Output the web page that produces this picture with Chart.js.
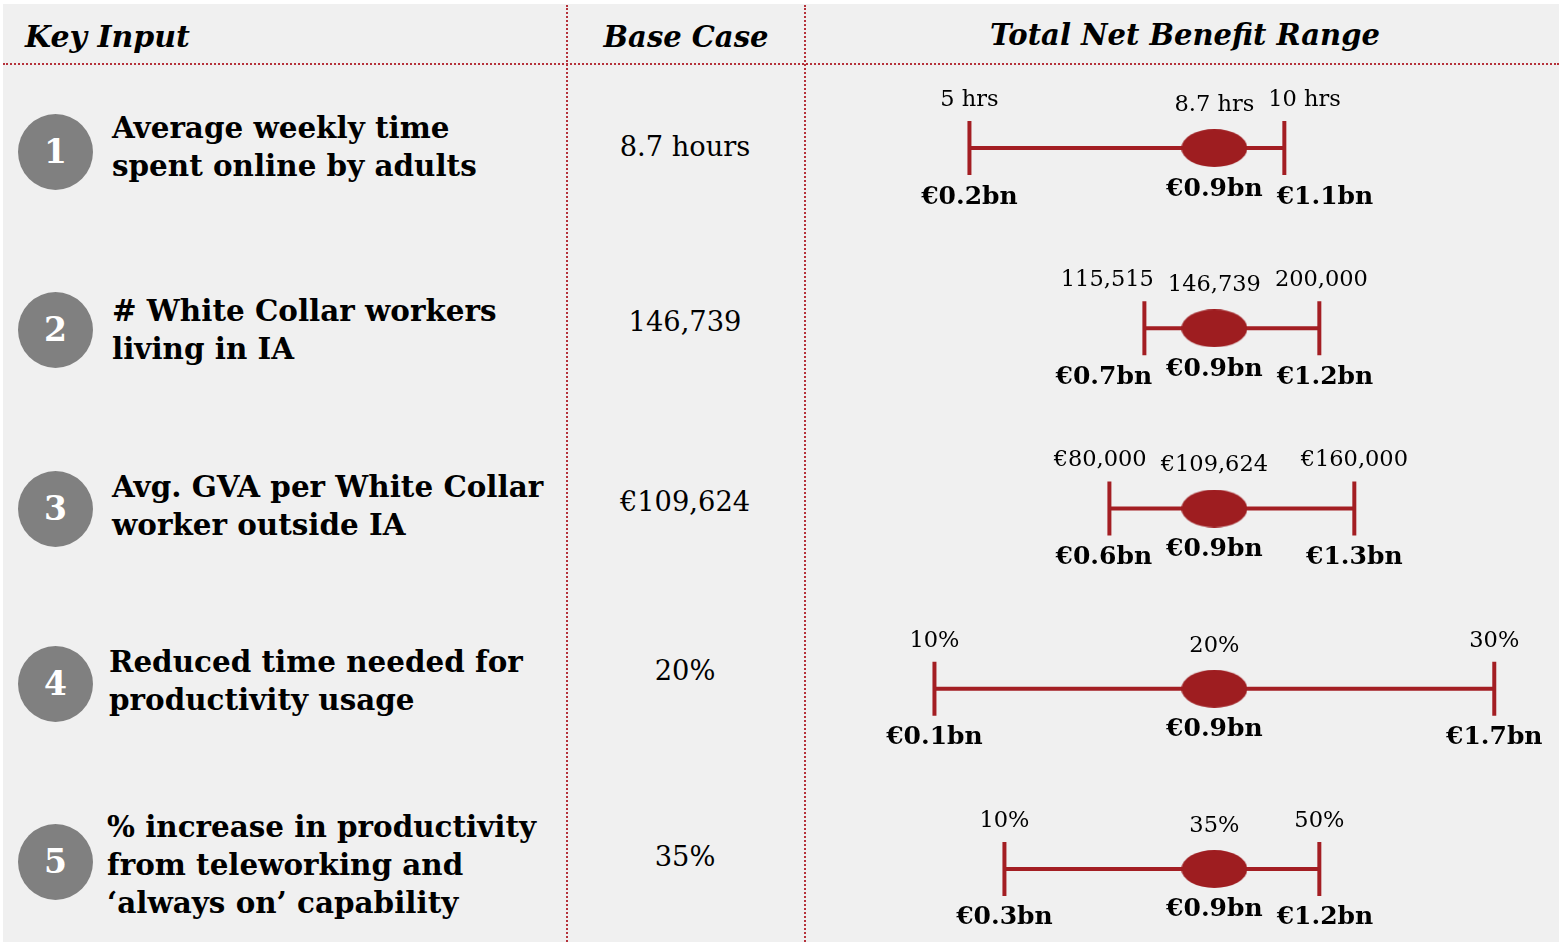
<!DOCTYPE html>
<html>
<head>
<meta charset="utf-8">
<script src="https://cdn.jsdelivr.net/npm/chart.js@4"></script>
<style>
  html, body { margin: 0; padding: 0; width: 1559px; height: 942px; overflow: hidden; background: #ffffff; }
  #panel { position: absolute; left: 3px; top: 4px; width: 1556px; height: 938px; background: #f0f0f0; }
  .abs { position: absolute; }
  .hdr { font-family: "DejaVu Serif", serif; font-weight: bold; font-style: italic; font-size: 29px; line-height: 40px; color: #000; white-space: nowrap; }
  .hline { position: absolute; left: 3px; top: 63px; width: 1556px; height: 0; border-top: 2px dotted #b5313a; }
  .vline { position: absolute; top: 5px; width: 0; height: 937px; border-left: 2px dotted #b5313a; }
  .circ { position: absolute; width: 75px; height: 76px; border-radius: 50%; background: #808080; color: #fff;
          font-family: "DejaVu Serif", serif; font-weight: bold; font-size: 33px; line-height: 76px; text-align: center; }
  .key { position: absolute; font-family: "DejaVu Serif", serif; font-weight: bold; font-size: 29.4px; line-height: 38px; color: #000; white-space: nowrap; }
  .base { position: absolute; left: 567px; width: 236px; text-align: center; font-family: "DejaVu Serif", serif; font-size: 27.3px; line-height: 38px; color: #000; }
  #chartBox { position: absolute; left: 805px; top: 65px; width: 754px; height: 877px; }
</style>
</head>
<body>
<div id="panel"></div>
<div class="hline"></div>
<div class="vline" style="left:566px"></div>
<div class="vline" style="left:804px"></div>
<div class="hdr abs" style="left:25px; top:17px; font-size:30px;">Key Input</div>
<div class="hdr abs" style="left:567px; width:238px; text-align:center; top:17px;">Base Case</div>
<div class="hdr abs" style="left:805px; width:760px; text-align:center; top:15px;">Total Net Benefit Range</div>
<div id="left"></div>
<div id="chartBox"><canvas id="chart" width="754" height="877"></canvas></div>
<script>
// ---------- data ----------
const rowNumbers = ["1", "2", "3", "4", "5"];
const keyInputs = [
  ["Average weekly time", "spent online by adults"],
  ["# White Collar workers", "living in IA"],
  ["Avg. GVA per White Collar", "worker outside IA"],
  ["Reduced time needed for", "productivity usage"],
  ["% increase in productivity", "from teleworking and", "\u2018always on\u2019 capability"]
];
const baseCases = ["8.7 hours", "146,739", "\u20ac109,624", "20%", "35%"];
const lowInputs = ["5 hrs", "115,515", "\u20ac80,000", "10%", "10%"];
const baseInputs = ["8.7 hrs", "146,739", "\u20ac109,624", "20%", "35%"];
const highInputs = ["10 hrs", "200,000", "\u20ac160,000", "30%", "50%"];
const lowBenefit = [0.2, 0.7, 0.6, 0.1, 0.3];   // € bn
const baseBenefit = [0.9, 0.9, 0.9, 0.9, 0.9];  // € bn
const highBenefit = [1.1, 1.2, 1.3, 1.7, 1.2];  // € bn

// ---------- left-hand table (HTML text) ----------
const rowCenters = [152, 330, 509, 684, 862];
const textTops = [109, 292, 468, 643, 808];
const textLefts = [112, 112, 112, 109, 107];
const baseTops = [128, 303, 483, 652, 838];
const left = document.getElementById('left');
rowNumbers.forEach((n, i) => {
  const c = document.createElement('div');
  c.className = 'circ';
  c.style.left = (55 - 37) + 'px';
  c.style.top = (rowCenters[i] - 38) + 'px';
  c.textContent = n;
  left.appendChild(c);
  const k = document.createElement('div');
  k.className = 'key';
  k.style.left = textLefts[i] + 'px';
  k.style.top = textTops[i] + 'px';
  k.innerHTML = keyInputs[i].map(s => s.replace(/&/g, '&amp;')).join('<br>');
  left.appendChild(k);
  const b = document.createElement('div');
  b.className = 'base';
  b.style.top = baseTops[i] + 'px';
  b.textContent = baseCases[i];
  left.appendChild(b);
});

// ---------- chart ----------
const RED = '#a31e23';
const rows = lowBenefit.map((_, i) => i);

const ellipse = document.createElement('canvas');
ellipse.width = 66; ellipse.height = 38;
(function () {
  const c = ellipse.getContext('2d');
  c.fillStyle = '#9e1d20';
  c.beginPath();
  c.ellipse(33, 19, 33, 19, 0, 0, Math.PI * 2);
  c.fill();
})();

const datasets = [];
datasets.push({
  label: 'Base case',
  data: rows.map(i => ({ x: baseBenefit[i], y: i })),
  pointStyle: ellipse,
  pointRadius: 20,
  showLine: false,
  clip: false
});
datasets.push({
  label: 'Range ends',
  data: rows.flatMap(i => [{ x: lowBenefit[i], y: i }, { x: highBenefit[i], y: i }]),
  pointStyle: 'line',
  pointRotation: 90,
  pointRadius: 27,
  pointBorderWidth: 4,
  pointBorderColor: RED,
  pointBackgroundColor: RED,
  showLine: false,
  clip: false
});
rows.forEach(i => {
  datasets.push({
    label: 'Range ' + (i + 1),
    data: [{ x: lowBenefit[i], y: i }, { x: highBenefit[i], y: i }],
    showLine: true,
    borderColor: RED,
    borderWidth: 4,
    pointRadius: 0,
    borderCapStyle: 'butt',
    clip: false
  });
});

// labels: centred on their marker, pushed outward only when they would collide with the centre label
function placeTriple(ctx, texts, xs, y, yOffsets, gap, maxX) {
  const w = texts.map(t => ctx.measureText(t).width);
  let xl = Math.min(xs[0], xs[1] - (w[1] / 2 + w[0] / 2 + gap));
  let xh = Math.max(xs[2], xs[1] + (w[1] / 2 + w[2] / 2 + gap));
  xh = Math.min(xh, maxX - w[2] / 2 - 2);
  ctx.fillText(texts[0], xl, y + yOffsets[0]);
  ctx.fillText(texts[1], xs[1], y + yOffsets[1]);
  ctx.fillText(texts[2], xh, y + yOffsets[2]);
}

const labelPlugin = {
  id: 'rangeLabels',
  afterDatasetsDraw(chart) {
    const ctx = chart.ctx;
    const xs = chart.scales.x, ys = chart.scales.y;
    ctx.save();
    ctx.fillStyle = '#000';
    ctx.textAlign = 'center';
    ctx.textBaseline = 'middle';
    rows.forEach(i => {
      const y = ys.getPixelForValue(i);
      const px = [xs.getPixelForValue(lowBenefit[i]), xs.getPixelForValue(baseBenefit[i]), xs.getPixelForValue(highBenefit[i])];
      ctx.font = '22.5px "DejaVu Serif"';
      placeTriple(ctx, [lowInputs[i], baseInputs[i], highInputs[i]], px, y, [-48, -43, -48], 14, chart.width);
      ctx.font = 'bold 25px "DejaVu Serif"';
      const fmt = v => '\u20ac' + v.toFixed(1) + 'bn';
      placeTriple(ctx, [fmt(lowBenefit[i]), fmt(baseBenefit[i]), fmt(highBenefit[i])], px, y, [49, 41, 49], 14, chart.width);
    });
    ctx.restore();
  }
};

new Chart(document.getElementById('chart'), {
  type: 'scatter',
  data: { datasets },
  options: {
    responsive: false,
    animation: false,
    events: [],
    layout: { padding: 0, autoPadding: false },
    plugins: { legend: { display: false }, tooltip: { enabled: false } },
    scales: {
      x: { type: 'linear', min: -0.27, max: 1.885, display: false },
      y: { type: 'linear', min: -0.4605, max: 4.405, reverse: true, display: false }
    }
  },
  plugins: [labelPlugin]
});
</script>
</body>
</html>
